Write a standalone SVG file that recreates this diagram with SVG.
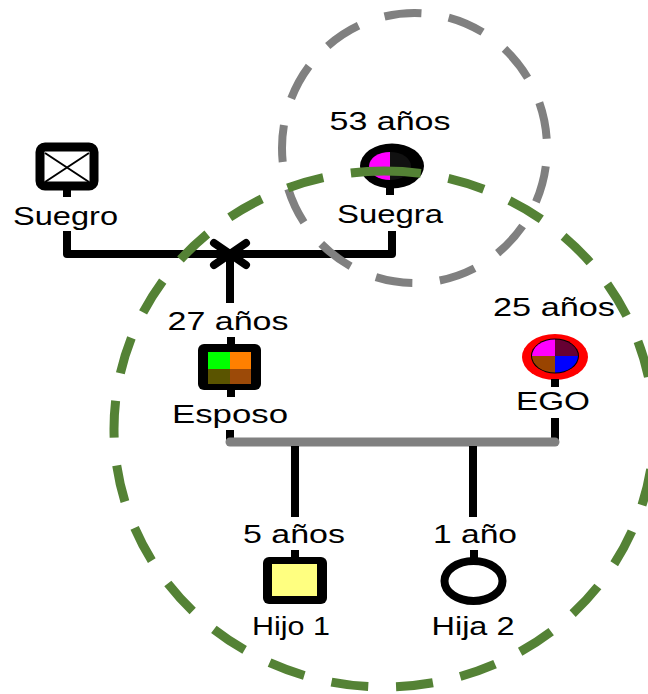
<svg xmlns="http://www.w3.org/2000/svg" width="648" height="694" viewBox="0 0 648 694">
<style>
text{font-family:"Liberation Sans",Arial,sans-serif;font-size:26px;fill:#000;text-anchor:middle}
.ln{fill:none;stroke:#000;stroke-width:8;stroke-linejoin:round}
.stem{stroke:#000;stroke-width:8}
.gray{fill:none;stroke:#808080;stroke-width:8;stroke-dasharray:37 27.6;stroke-dashoffset:30}
.green{fill:none;stroke:#548235;stroke-width:9;stroke-dasharray:37 28}
</style>
<rect width="648" height="694" fill="#fff"/>
<g id="connectors">
<path class="ln" d="M67,231 V254 H392 V231"/>
<path class="ln" d="M230,254 V303" stroke-linecap="butt"/>
<path class="ln" d="M214,243 L246,265 M246,243 L214,265" stroke-linecap="round"/>
<path class="ln" d="M230,430 V442"/>
<path class="ln" d="M555,418 V442"/>
<path d="M230,442 H555" stroke="#808080" stroke-width="9" stroke-linecap="round"/>
<path class="ln" d="M295,446 V517 M473,446 V517"/>
</g>
<g id="suegro">
<rect x="40" y="147" width="54" height="39" rx="5" fill="#fff" stroke="#000" stroke-width="9"/>
<path d="M45,153 L89,182 M89,153 L45,182" stroke="#000" stroke-width="2"/>
<line class="stem" x1="67" y1="190" x2="67" y2="197"/>
<text x="65.5" y="225" textLength="105" lengthAdjust="spacingAndGlyphs">Suegro</text>
</g>
<g id="suegra">
<text x="390" y="130" textLength="121" lengthAdjust="spacingAndGlyphs">53 años</text>
<ellipse cx="392" cy="166" rx="32" ry="22.5" fill="#000"/>
<path d="M390,152 A21,14 0 0 0 390,180 Z" fill="#ff00ff"/>
<path d="M390,152 A21,14 0 0 1 390,180 Z" fill="#111"/>
<line class="stem" x1="390" y1="188" x2="390" y2="195"/>
<text x="390" y="223" textLength="106" lengthAdjust="spacingAndGlyphs">Suegra</text>
</g>
<g id="esposo">
<text x="228" y="330" textLength="121" lengthAdjust="spacingAndGlyphs">27 años</text>
<line class="stem" x1="231" y1="337" x2="231" y2="345"/>
<rect x="198" y="344" width="63" height="46" rx="6" fill="#000"/>
<rect x="208" y="352" width="22" height="17" fill="#00ff00"/>
<rect x="230" y="352" width="21" height="17" fill="#ff8000"/>
<rect x="208" y="369" width="22" height="15" fill="#5a5400"/>
<rect x="230" y="369" width="21" height="15" fill="#9c4a08"/>
<line class="stem" x1="231" y1="389" x2="231" y2="397"/>
<text x="230" y="423" textLength="116" lengthAdjust="spacingAndGlyphs">Esposo</text>
</g>
<g id="ego">
<text x="554" y="316" textLength="122" lengthAdjust="spacingAndGlyphs">25 años</text>
<ellipse cx="555" cy="357" rx="33" ry="23" fill="#ff0000"/>
<ellipse cx="555" cy="356" rx="24" ry="17.5" fill="#000"/>
<path d="M555,356 V339.5 A23,16.5 0 0 0 532,356 Z" fill="#ff00ff"/>
<path d="M555,356 V339.5 A23,16.5 0 0 1 578,356 Z" fill="#660033"/>
<path d="M555,356 H532 A23,16.5 0 0 0 555,372.5 Z" fill="#994400"/>
<path d="M555,356 H578 A23,16.5 0 0 1 555,372.5 Z" fill="#0000ff"/>
<line class="stem" x1="555" y1="379" x2="555" y2="387"/>
<text x="553" y="410" textLength="74" lengthAdjust="spacingAndGlyphs">EGO</text>
</g>
<g id="hijo1">
<text x="294" y="543" textLength="102" lengthAdjust="spacingAndGlyphs">5 años</text>
<line class="stem" x1="295" y1="550" x2="295" y2="558"/>
<rect x="263" y="557" width="64" height="47" rx="6" fill="#000"/>
<rect x="272" y="564" width="45" height="32" fill="#ffff80"/>
<text x="291" y="635" textLength="78" lengthAdjust="spacingAndGlyphs">Hijo 1</text>
</g>
<g id="hija2">
<text x="475" y="543" textLength="84" lengthAdjust="spacingAndGlyphs">1 año</text>
<line class="stem" x1="474" y1="550" x2="474" y2="559"/>
<ellipse cx="473.5" cy="581" rx="29" ry="20" fill="#fff" stroke="#000" stroke-width="8"/>
<text x="473" y="635" textLength="83" lengthAdjust="spacingAndGlyphs">Hija 2</text>
</g>
<g id="groups">
<path class="gray" d="M414.5,13 A132.5,135 0 0 1 414.5,283 A132.5,135 0 0 1 414.5,13"/>
<path class="green" d="M384,171 A270,258 0 0 1 384,687 A270,258 0 0 1 384,171"/>
</g>
</svg>
